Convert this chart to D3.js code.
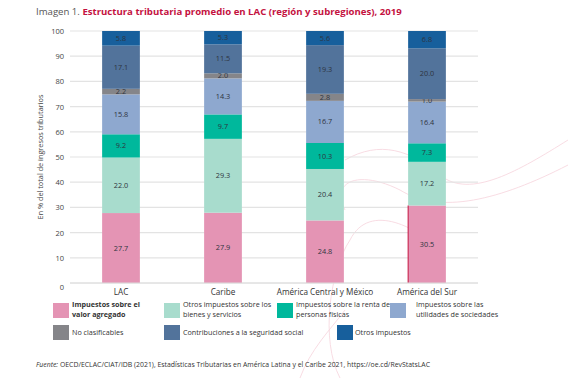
<!DOCTYPE html>
<html>
<head>
<meta charset="utf-8">
<script src="https://cdn.jsdelivr.net/npm/d3@7"></script>
<style>
  body { margin: 0; background: #fff; }
  svg { font-family: "Open Sans", "Noto Sans", sans-serif; }
</style>
</head>
<body>
<svg id="chart" width="568" height="378"></svg>
<script>
var width = 568, height = 378;

var regions = ["LAC", "Caribe", "América Central y México", "América del Sur"];
var series = ["Impuestos sobre el valor agregado", "Otros impuestos sobre los bienes y servicios",
  "Impuestos sobre la renta de personas físicas", "Impuestos sobre las utilidades de sociedades",
  "No clasificables", "Contribuciones a la seguridad social", "Otros impuestos"];
var iva = [27.7, 27.9, 24.8, 30.5];
var otrosBienes = [22.0, 29.3, 20.4, 17.2];
var rentaPersonas = [9.2, 9.7, 10.3, 7.3];
var utilidades = [15.8, 14.3, 16.7, 16.4];
var noClasif = [2.2, 2.0, 2.8, 1.0];
var seguridad = [17.1, 11.5, 19.3, 20.0];
var otros = [5.8, 5.3, 5.6, 6.8];
var yTicks = [0, 10, 20, 30, 40, 50, 60, 70, 80, 90, 100];
var colors = ["#e494b4", "#a8dccd", "#00b89c", "#8ea8cf", "#858589", "#52739b", "#175f9c"];

var legendLines = [
  ["Impuestos sobre el", "valor agregado"],
  ["Otros impuestos sobre los", "bienes y servicios"],
  ["Impuestos sobre la renta de", "personas físicas"],
  ["Impuestos sobre las", "utilidades de sociedades"],
  ["No clasificables"],
  ["Contribuciones a la seguridad social"],
  ["Otros impuestos"]
];

var allSeries = [iva, otrosBienes, rentaPersonas, utilidades, noClasif, seguridad, otros];
var table = regions.map(function (r, i) {
  var row = { region: r };
  series.forEach(function (s, j) { row[s] = allSeries[j][i]; });
  return row;
});

var svg = d3.select("#chart");

// faint decorative curves in the background
var deco = svg.append("g").attr("fill", "none").attr("stroke", "#f6d3dc").attr("stroke-width", 0.8);
deco.append("path").attr("d", "M345,160 C380,140 410,150 440,175 C470,200 520,170 568,140");
deco.append("path").attr("d", "M345,210 C330,180 360,170 400,190 C440,215 500,200 568,165");
deco.append("path").attr("d", "M340,378 C320,340 330,270 350,240 C370,200 420,230 440,250");
deco.append("path").attr("d", "M300,378 C310,350 330,330 345,310");

var x = d3.scaleBand().domain(regions).range([70, 478]).paddingInner(0.63).paddingOuter(0.315);
var y = d3.scaleLinear().domain([0, 100]).range([283, 31]);
// bars are drawn as shares of the total (stack expand), on the same pixel range
var yShare = d3.scaleLinear().domain([0, 1]).range([283, 31]);

// title
var title = svg.append("text").attr("x", 36).attr("y", 15).style("font-size", "9.6px");
title.append("tspan").attr("fill", "#555").text("Imagen 1. ");
title.append("tspan").attr("fill", "#c4123f").attr("font-weight", "bold")
  .text("Estructura tributaria promedio en LAC (región y subregiones), 2019");

// grid
svg.append("g").selectAll("line").data(yTicks).enter().append("line")
  .attr("x1", 70).attr("x2", 478)
  .attr("y1", function (d) { return y(d); }).attr("y2", function (d) { return y(d); })
  .attr("stroke", "#e3e3e3").attr("stroke-width", 1.2);

var yAxis = svg.append("g").attr("transform", "translate(64,0)")
  .call(d3.axisLeft(y).tickValues(yTicks).tickSize(0).tickPadding(0));
yAxis.select(".domain").remove();
yAxis.selectAll("text").style("font-size", "7.5px").attr("fill", "#444")
  .attr("font-family", "'Open Sans', sans-serif");
yAxis.selectAll(".tick").filter(function (d) { return d === 0; }).select("text").attr("dy", "0.9em");

svg.append("text")
  .attr("transform", "translate(43," + y(50) + ") rotate(-90)")
  .attr("text-anchor", "middle")
  .style("font-size", "7.3px").attr("fill", "#444")
  .text("En % del total de ingresos tributarios");

// stacked bars
var stack = d3.stack().keys(series).offset(d3.stackOffsetExpand);
var layers = stack(table);

var layer = svg.append("g").selectAll("g").data(layers).enter().append("g")
  .attr("fill", function (d, i) { return colors[i]; });

layer.selectAll("rect").data(function (d) { return d; }).enter().append("rect")
  .attr("x", function (d) { return x(d.data.region); })
  .attr("width", x.bandwidth())
  .attr("y", function (d) { return yShare(d[1]); })
  .attr("height", function (d) { return yShare(d[0]) - yShare(d[1]); });

layer.selectAll("text").data(function (d) { return d.map(function (p) { return { p: p, key: d.key }; }); })
  .enter().append("text")
  .attr("x", function (d) { return x(d.p.data.region) + x.bandwidth() / 2; })
  .attr("y", function (d) { return (yShare(d.p[0]) + yShare(d.p[1])) / 2; })
  .attr("dy", "0.35em")
  .attr("text-anchor", "middle")
  .attr("fill", "#2e3440")
  .style("font-size", "7.3px")
  .text(function (d) { return d.p.data[d.key].toFixed(1); });

// red edge on the last bar's first segment
svg.append("line")
  .attr("x1", x("América del Sur")).attr("x2", x("América del Sur"))
  .attr("y1", yShare(layers[0][3][1])).attr("y2", y(0))
  .attr("stroke", "#c4123f").attr("stroke-width", 1);

// baseline
svg.append("line").attr("x1", 70).attr("x2", 478).attr("y1", y(0)).attr("y2", y(0))
  .attr("stroke", "#dcdcdc").attr("stroke-width", 1);

// x labels
svg.append("g").selectAll("text").data(regions).enter().append("text")
  .attr("x", function (d) { return x(d) + x.bandwidth() / 2; })
  .attr("y", 295)
  .attr("text-anchor", "middle")
  .style("font-size", "8.2px").attr("fill", "#333")
  .text(function (d) { return d; });

// legend
var legendPos = [[53, 303], [164, 303], [277, 303], [390, 303], [53, 325], [164, 325], [337, 325]];
var leg = svg.append("g").selectAll("g").data(series).enter().append("g")
  .attr("transform", function (d, i) { return "translate(" + legendPos[i][0] + "," + legendPos[i][1] + ")"; });
leg.append("rect").attr("width", 16).attr("height", 15)
  .attr("fill", function (d, i) { return colors[i]; });
leg.each(function (d, i) {
  var g = d3.select(this);
  var lines = legendLines[i];
  var t = g.append("text").attr("x", i === 3 ? 26 : 19)
    .style("font-size", "7.2px").attr("fill", "#333")
    .attr("font-weight", i === 0 ? "bold" : "normal");
  if (i === 6) t.attr("x", 18);
  lines.forEach(function (l, k) {
    t.append("tspan").attr("x", t.attr("x"))
      .attr("y", lines.length === 1 ? 10 : 4 + k * 10)
      .text(l);
  });
});

// source
var src = svg.append("text").attr("x", 36).attr("y", 367).style("font-size", "6.9px").attr("fill", "#333");
src.append("tspan").attr("font-style", "italic").text("Fuente:");
src.append("tspan").text(" OECD/ECLAC/CIAT/IDB (2021), Estadísticas Tributarias en América Latina y el Caribe 2021, https://oe.cd/RevStatsLAC");
</script>
</body>
</html>
